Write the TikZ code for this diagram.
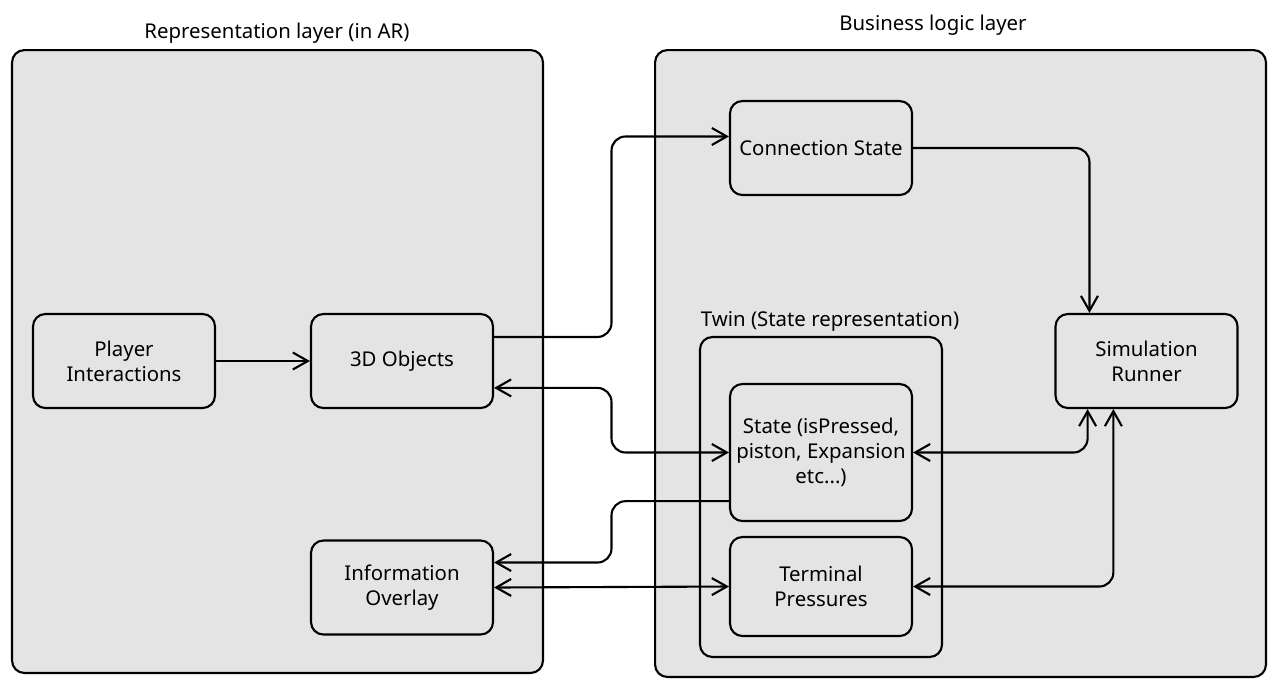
\documentclass[tikz,border=0pt]{standalone}
\usepackage{fontspec}
\setmainfont{Noto Sans}
\usetikzlibrary{arrows.meta,calc}
\definecolor{panelgray}{HTML}{E4E4E4}

\begin{document}
\begin{tikzpicture}[x=0.02cm, y=-0.02cm, line width=1.2pt,
    every node/.style={font=\fontsize{11.6}{14.2}\selectfont},
    layer/.style={draw, fill=panelgray, rounded corners=7pt, minimum width=#1},
    box/.style={draw, fill=panelgray, rounded corners=7pt, minimum width=3.64cm, minimum height=1.88cm, align=center, inner sep=2pt},
    flow/.style={-{Straight Barb[length=3mm,width=3.4mm]}, rounded corners=8pt},
    flowboth/.style={{Straight Barb[length=3mm,width=3.4mm]}-{Straight Barb[length=3mm,width=3.4mm]}, rounded corners=8pt}]
        \useasboundingbox (0,0) rectangle (1280,691);

        % Layers
        \node[layer=10.62cm, minimum height=12.46cm] (repr) at (277.5,361.5) {};
        \node[layer=12.22cm, minimum height=12.54cm] (logic) at (960.5,363.5) {};
        \node (reprlabel) at (277,33) {Representation layer (in AR)};
        \node (logiclabel) at (933,25) {Business logic layer};

        % Twin group
        \node[draw, fill=panelgray, rounded corners=7pt, minimum width=4.84cm, minimum height=6.4cm] (twin) at (821,497) {};
        \node (twinlabel) at (830,321) {Twin (State representation)};

        % Boxes (same size)
        \node[box] (player) at (124,361) {Player\\Interactions};
        \node[box] (obj) at (402,361) {3D Objects};
        \node[box] (info) at (402,587.5) {Information\\Overlay};
        \node[box] (conn) at (821,148) {Connection State};
        \node[box] (sim) at (1146.5,361) {Simulation\\Runner};
        \node[box, minimum height=2.74cm] (state) at (821,452.5) {State (isPressed,\\piston, Expansion\\etc...)};
        \node[box, minimum height=1.98cm] (term) at (821,586.5) {Terminal\\Pressures};

        % Anchor points on the box sides
        \coordinate (objA) at ($(obj.north east)!0.25!(obj.south east)$);
        \coordinate (objB) at ($(obj.north east)!0.78!(obj.south east)$);
        \coordinate (connIn) at ($(conn.north west)!0.38!(conn.south west)$);
        \coordinate (simTop) at ($(sim.north west)!0.19!(sim.north east)$);
        \coordinate (simBotA) at ($(sim.south west)!0.18!(sim.south east)$);
        \coordinate (simBotB) at ($(sim.south west)!0.32!(sim.south east)$);
        \coordinate (stateOut) at ($(state.north west)!0.85!(state.south west)$);
        \coordinate (infoIn) at ($(info.north east)!0.24!(info.south east)$);

        % Links
        \draw[flow] (player) -- (obj);
        \draw[flow] (objA) -| ($(objA)!0.5!(connIn)$) |- (connIn);
        \draw[flow] (conn.east) -| (simTop);
        \draw[flowboth] (objB) -| ($(objB)!0.5!(state.west)$) |- (state.west);
        \draw[flow] (stateOut) -| ($(stateOut)!0.5!(infoIn)$) |- (infoIn);
        \draw[flowboth] (info.east) -- (term.west);
        \draw[flowboth] (state.east) -| (simBotA);
        \draw[flowboth] (term.east) -| (simBotB);
    \end{tikzpicture}
\end{document}
